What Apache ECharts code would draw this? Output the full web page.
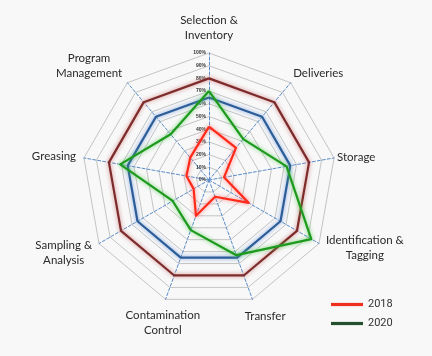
<!DOCTYPE html>
<html><head><meta charset="utf-8">
<script src="https://cdn.jsdelivr.net/npm/echarts@6/dist/echarts.min.js"></script>
<style>html,body{margin:0;padding:0;background:#f8f8f8}#c{width:432px;height:356px}</style>
</head><body><div id="c"></div>
<script>
// indicators listed counter-clockwise from the top (ECharts radar order)
const indicators = ['Selection &\nInventory','Program\nManagement','Greasing','Sampling &\nAnalysis','Contamination\nControl','Transfer','Identification &\nTagging','Storage','Deliveries'];
const values2018 = [42, 23, 18, 14, 30, 14, 36, 12, 33];
const values2020 = [70, 47, 71, 33, 42, 63, 93, 62, 42];
const ringBlue = [65, 65, 65, 65, 65, 65, 65, 65, 65];
const ringBrown = [80, 80, 80, 80, 80, 80, 80, 80, 80];
const seriesNames = ['2018', '2020'];

// per-label placement tweaks (gap, text style overrides)
const nameLayout = [
  { gap: 10, style: { verticalAlign: 'bottom' } },
  { gap: 8, style: { padding: [0, 0, 22, 0] } },
  { gap: 8, style: {} },
  { gap: 8, style: { padding: [10, 0, 0, 0] } },
  { gap: 8, style: { align: 'center', verticalAlign: 'top', padding: [1, 0, 0, 0] } },
  { gap: 8, style: { align: 'center', verticalAlign: 'top', padding: [2, 0, 0, 20] } },
  { gap: 8, style: {} },
  { gap: 3, style: {} },
  { gap: 4, style: { padding: [0, 0, 12, 0] } }
];

function richName(n) {
  return n.split('\n').map(s => '{a|' + s + '}').join('\n');
}

const chart = echarts.init(document.getElementById('c'));
chart.setOption({
  backgroundColor: '#f8f8f8',
  animation: false,
  legend: {
    orient: 'vertical', left: 326, top: 294, itemGap: 8,
    itemWidth: 32, itemHeight: 10,
    textStyle: { fontFamily: 'Roboto', fontSize: 11, color: '#333' },
    data: [
      { name: '2018', icon: 'path://M0,0H30V3H0Z', itemStyle: { color: '#f0301e' } },
      { name: '2020', icon: 'path://M0,0H30V3H0Z', itemStyle: { color: '#24502f' } }
    ]
  },
  radar: {
    center: [209, 180], radius: 127, startAngle: 90, shape: 'polygon', splitNumber: 10,
    axisName: {
      color: '#2a2a2a', fontFamily: 'Lato', fontSize: 11.5, lineHeight: 15,
      rich: { a: { align: 'center', fontFamily: 'Lato', fontSize: 11.5, lineHeight: 15, color: '#2a2a2a' } }
    },
    nameGap: 8,
    splitLine: { lineStyle: { color: '#c4c4c4', width: 1 } },
    splitArea: { show: false },
    axisLine: { lineStyle: { color: '#5a8cc8', type: [3, 2], width: 1 } },
    axisLabel: { show: false },
    indicator: indicators.map((n, i) => ({
      name: richName(n), min: 0, max: 100,
      nameGap: nameLayout[i].gap,
      nameTextStyle: Object.assign({
        color: '#2a2a2a', fontFamily: 'Lato', fontSize: 11.5, lineHeight: 15,
        rich: { a: { align: 'center', fontFamily: 'Lato', fontSize: 11.5, lineHeight: 15, color: '#2a2a2a' } }
      }, nameLayout[i].style),
      axisLabel: i === 0 ? { show: true, formatter: '{value}%', fontSize: 5, fontWeight: 'bold', color: '#333', margin: 3 } : { show: false }
    }))
  },
  series: [
    { type: 'radar', symbol: 'none', silent: true, z: 2,
      data: [
        { name: 'ringBrown', value: ringBrown, lineStyle: { color: '#7d2b2b', width: 2.2, shadowBlur: 4, shadowColor: 'rgba(205,120,120,0.95)' } },
        { name: 'ringBlue', value: ringBlue, lineStyle: { color: '#2c5d98', width: 2.2, shadowBlur: 4, shadowColor: 'rgba(110,150,215,0.95)' } }
      ]
    },
    { type: 'radar', symbol: 'none', z: 3, name: '2020',
      data: [{ name: '2020', value: values2020, lineStyle: { color: '#1d9a1d', width: 2.2, shadowBlur: 4, shadowColor: 'rgba(80,200,80,0.85)' }, itemStyle: { color: '#1d9a1d' } }]
    },
    { type: 'radar', symbol: 'none', z: 4, name: '2018',
      data: [{ name: '2018', value: values2018, lineStyle: { color: '#ff2a1a', width: 2.2, shadowBlur: 4, shadowColor: 'rgba(255,120,120,0.95)' }, itemStyle: { color: '#ff2a1a' } }]
    }
  ]
});
</script></body></html>
